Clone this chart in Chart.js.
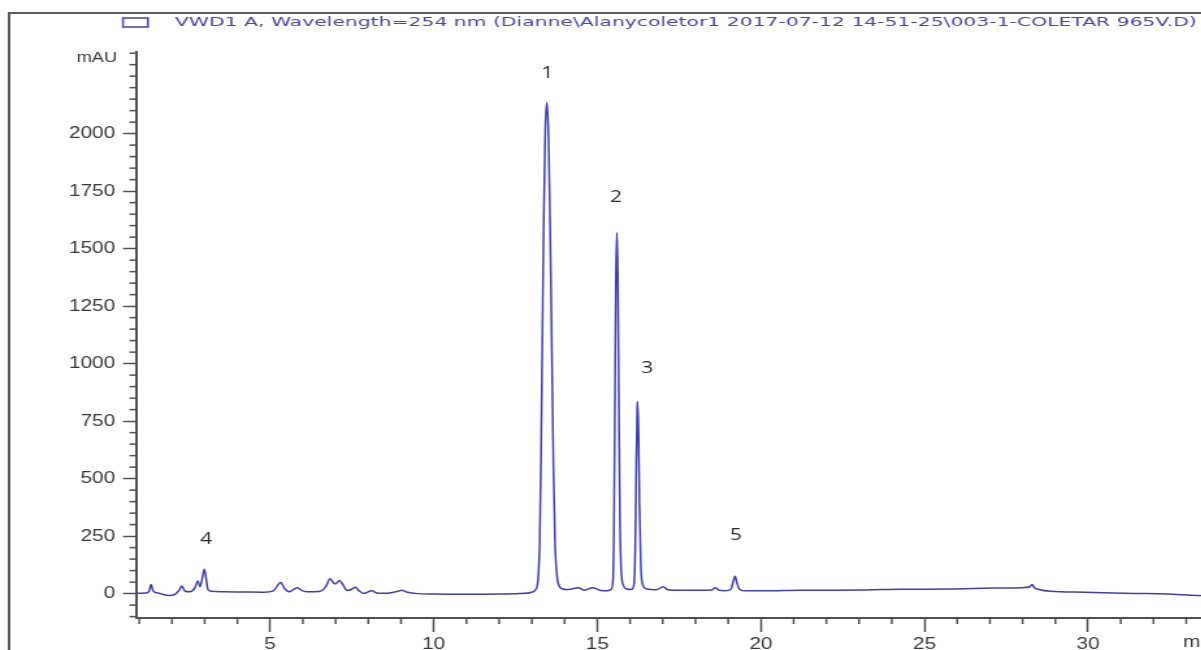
<!DOCTYPE html>
<html>
<head>
<meta charset="utf-8">
<script src="https://cdn.jsdelivr.net/npm/chart.js@4.4.1/dist/chart.umd.min.js"></script>
<style>
  html, body { margin: 0; padding: 0; background: #fff; overflow: hidden; width: 1201px; height: 650px; }
  #wrap { position: absolute; left: 0; top: 0; width: 980px; height: 680px; transform: scaleX(1.3); transform-origin: 0 0; }
  canvas { display: block; }
</style>
</head>
<body>
<div id="wrap"><canvas id="c" width="980" height="680"></canvas></div>
<script>
// ---- data ----
const seriesLabel = "VWD1 A, Wavelength=254 nm (Dianne\\Alanycoletor1 2017-07-12 14-51-25\\003-1-COLETAR 965V.D)";
const times = [
  0.95, 1.20, 1.30, 1.36, 1.42, 1.60, 1.90, 2.10, 2.22, 2.30, 2.40, 2.55, 2.70, 2.79, 2.86, 2.93, 2.99, 3.05, 3.10, 3.20,
  3.60, 4.20, 4.80, 5.10, 5.25, 5.32, 5.45, 5.58, 5.72, 5.83, 5.95, 6.12, 6.50, 6.70, 6.83, 6.95, 7.00, 7.12, 7.22, 7.35,
  7.48, 7.60, 7.72, 7.87, 8.10, 8.30, 8.60, 8.90, 9.02, 9.20, 9.50, 10.0, 11.0, 12.0, 12.6, 13.00,
  13.10, 13.18, 13.24, 13.28, 13.32, 13.36, 13.41, 13.46, 13.51, 13.56, 13.61, 13.66, 13.71, 13.77, 13.85, 13.95,
  14.06, 14.20, 14.42, 14.62, 14.85, 15.07, 15.30, 15.42,
  15.48, 15.51, 15.54, 15.57, 15.60, 15.63, 15.66, 15.69, 15.73, 15.80, 15.90, 16.05,
  16.12, 16.16, 16.19, 16.22, 16.23, 16.26, 16.29, 16.33, 16.40, 16.51,
  16.80, 17.02, 17.15, 17.33, 18.15, 18.50, 18.61, 18.72, 18.90, 19.08, 19.15, 19.21, 19.27, 19.35, 19.55,
  20.16, 21.2, 22.2, 23.2, 24.3, 25.8, 27.1, 28.0, 28.22, 28.29, 28.36, 28.5, 28.85, 29.9, 31.4, 32.4, 33.4, 35.0
];
const absorbance = [
  2, 3, 10, 40, 12, 2, -8, -2, 15, 33, 10, 8, 25, 55, 30, 70, 106, 60, 18, 10,
  8, 7, 6, 12, 40, 48, 20, 8, 18, 26, 15, 8, 9, 30, 65, 45, 42, 57, 40, 14,
  18, 28, 12, 1, 12, 2, 2, 10, 15, 6, 0, -2, -3, -2, 0, 6,
  15, 50, 230, 600, 1100, 1600, 2020, 2135, 1980, 1580, 1060, 540, 210, 75, 30, 20,
  18, 20, 25, 15, 26, 15, 12, 18,
  60, 300, 850, 1380, 1570, 1350, 800, 350, 100, 35, 20, 18,
  40, 200, 560, 810, 835, 700, 380, 120, 35, 20,
  17, 30, 17, 15, 15, 16, 26, 15, 13, 18, 50, 75, 45, 18, 12,
  12, 15, 15, 16, 19, 20, 24, 26, 30, 40, 26, 18, 10, 6, 1, -2, -8, -10
];
// peak annotations (time, mAU)
const peakLabels = ['1', '2', '3', '4', '5'];
const peakLabelTimes = [13.47, 15.57, 16.52, 3.04, 19.24];
const peakLabelValues = [2261, 1722, 978, 235, 252];
// axes
const xMajorTicks = [5, 10, 15, 20, 25, 30];
const yMajorTicks = [0, 250, 500, 750, 1000, 1250, 1500, 1750, 2000];
const xUnitLabel = 'min';
const yUnitLabel = 'mAU';
const xMin = 0.9, xMax = 35, yMin = -106, yMax = 2355;

const xTickValues = [];
for (let t = 1; t <= 35; t++) xTickValues.push(t);
const yTickValues = [];
for (let v = -100; v <= 2350; v += 50) yTickValues.push(v);

const points = times.map((t, i) => ({ x: t, y: absorbance[i] }));

const AXIS = '#505050';
const TXT = '#383838';

const decor = {
  id: 'decor',
  afterDraw(chart) {
    const { ctx, chartArea, scales: { x, y } } = chart;
    ctx.save();
    // outer frame
    ctx.strokeStyle = '#5a5a5a';
    ctx.lineWidth = 2;
    ctx.strokeRect(7, 13, 2000, 2000);
    // legend
    ctx.fillStyle = '#fff';
    ctx.strokeStyle = '#4a4ab0';
    ctx.lineWidth = 1.6;
    ctx.fillRect(94.6, 18, 19.2, 9);
    ctx.strokeRect(94.6, 18, 19.2, 9);
    ctx.font = '12.5px "DejaVu Sans"';
    ctx.fillStyle = '#4848a2';
    ctx.textBaseline = 'middle';
    ctx.textAlign = 'left';
    const w = ctx.measureText(chart.data.datasets[0].label).width;
    ctx.save();
    ctx.translate(134.6, 23);
    ctx.scale(786 / w, 1);
    ctx.fillText(chart.data.datasets[0].label, 0, 0);
    ctx.restore();
    // minor ticks
    ctx.strokeStyle = AXIS;
    ctx.lineWidth = 1.5;
    y.ticks.forEach(tk => {
      if (yMajorTicks.includes(tk.value)) return;
      const py = y.getPixelForValue(tk.value);
      ctx.beginPath(); ctx.moveTo(chartArea.left - 5, py); ctx.lineTo(chartArea.left, py); ctx.stroke();
    });
    x.ticks.forEach(tk => {
      if (xMajorTicks.includes(tk.value)) return;
      const px = x.getPixelForValue(tk.value);
      ctx.beginPath(); ctx.moveTo(px, chartArea.bottom); ctx.lineTo(px, chartArea.bottom + 6); ctx.stroke();
    });
    // unit labels
    ctx.fillStyle = '#333';
    ctx.font = '14px "Liberation Sans"';
    ctx.textAlign = 'right';
    ctx.fillText(yUnitLabel, chartArea.left - 14.6, chartArea.top + 6);
    ctx.font = '16px "Liberation Sans"';
    ctx.fillStyle = TXT;
    ctx.textAlign = 'left';
    ctx.fillText(xUnitLabel, x.getPixelForValue(32.9), chartArea.bottom + 25);
    // peak labels
    ctx.font = '16px "Open Sans"';
    ctx.fillStyle = '#2a2a2a';
    ctx.textAlign = 'center';
    peakLabels.forEach((lab, i) => {
      ctx.fillText(lab, x.getPixelForValue(peakLabelTimes[i]), y.getPixelForValue(peakLabelValues[i]));
    });
    ctx.restore();
  }
};

Chart.defaults.font.family = '"Liberation Sans", Arial, sans-serif';

new Chart(document.getElementById('c'), {
  type: 'line',
  data: {
    datasets: [{
      label: seriesLabel,
      data: points,
      borderColor: '#3e3eae',
      borderWidth: 1.5,
      pointRadius: 0,
      cubicInterpolationMode: 'monotone',
      fill: false
    }]
  },
  options: {
    responsive: false,
    maintainAspectRatio: false,
    devicePixelRatio: 1,
    animation: false,
    layout: { padding: { top: 52, right: 17.2, left: 0, bottom: 0 } },
    plugins: { legend: { display: false }, tooltip: { enabled: false } },
    scales: {
      x: {
        type: 'linear',
        min: xMin, max: xMax,
        bounds: 'data',
        afterBuildTicks: s => { s.ticks = xTickValues.map(v => ({ value: v })); },
        afterFit: s => { s.height = 62; },
        border: { display: true, color: AXIS, width: 2 },
        grid: {
          display: true, drawOnChartArea: false, drawTicks: true, tickLength: 14, tickWidth: 1.5,
          tickColor: c => (c.tick && xMajorTicks.includes(c.tick.value)) ? AXIS : 'rgba(0,0,0,0)'
        },
        ticks: {
          autoSkip: false, maxRotation: 0, padding: 3, color: TXT,
          font: { size: 16 },
          callback: v => xMajorTicks.includes(v) ? String(v) : ''
        }
      },
      y: {
        type: 'linear',
        min: yMin, max: yMax,
        bounds: 'data',
        afterBuildTicks: s => { s.ticks = yTickValues.map(v => ({ value: v })); },
        afterFit: s => { s.width = 104.6; },
        border: { display: true, color: AXIS, width: 2 },
        grid: {
          display: true, drawOnChartArea: false, drawTicks: true, tickLength: 10, tickWidth: 1.5,
          tickColor: c => (c.tick && yMajorTicks.includes(c.tick.value)) ? AXIS : 'rgba(0,0,0,0)'
        },
        ticks: {
          autoSkip: false, padding: 6, color: TXT,
          font: { size: 16 },
          callback: v => yMajorTicks.includes(v) ? String(v) : ''
        }
      }
    }
  },
  plugins: [decor]
});
</script>
</body>
</html>
